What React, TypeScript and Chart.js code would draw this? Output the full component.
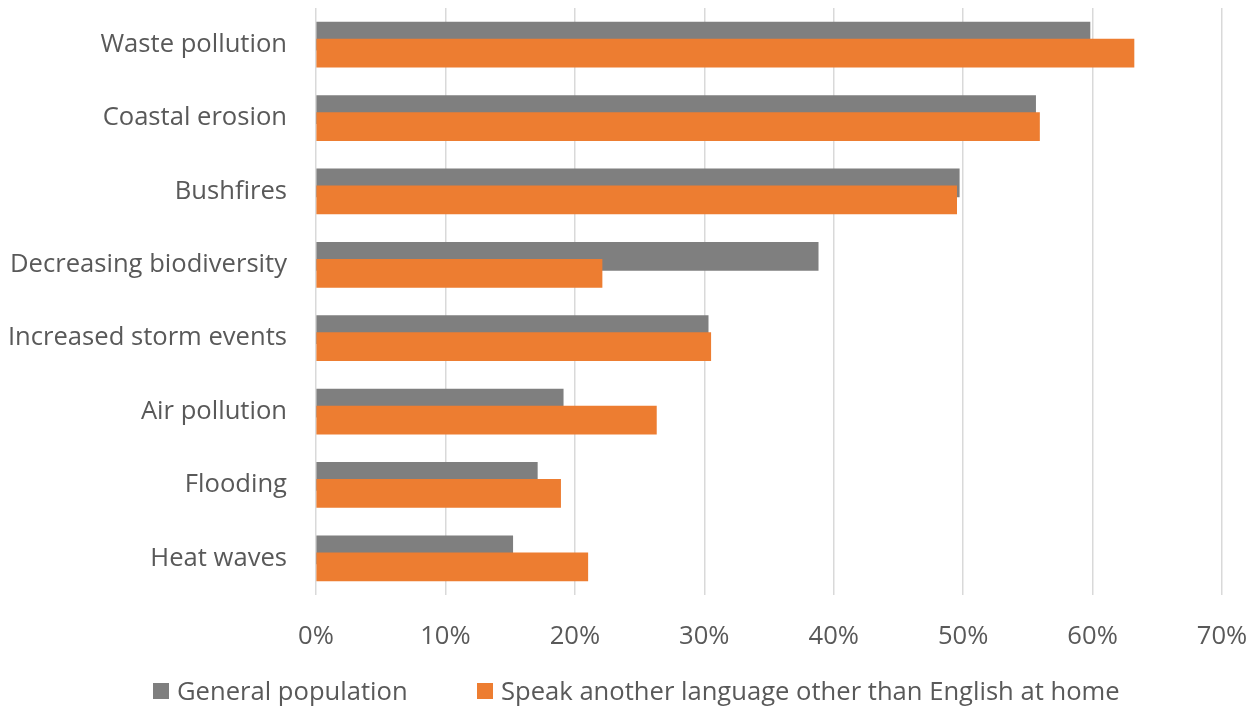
import React, { useEffect, useRef } from "react";
import { Chart, registerables } from "chart.js";

Chart.register(...registerables);

const categories = [
  "Waste pollution",
  "Coastal erosion",
  "Bushfires",
  "Decreasing biodiversity",
  "Increased storm events",
  "Air pollution",
  "Flooding",
  "Heat waves",
];
const generalPopulation = [59.8, 55.6, 49.7, 38.8, 30.3, 19.1, 17.1, 15.2];
const otherLanguage = [63.2, 55.9, 49.5, 22.1, 30.5, 26.3, 18.9, 21.0];
const seriesNames = [
  "General population",
  "Speak another language other than English at home",
];
const xTicks = [0, 10, 20, 30, 40, 50, 60, 70];

const GREY = "#7f7f7f";
const ORANGE = "#ed7d31";
const TEXT = "#595959";
const FONT = "'Open Sans', sans-serif";
const FS = 25.6;

export default function App() {
  const ref = useRef<HTMLCanvasElement | null>(null);

  useEffect(() => {
    if (!ref.current) return;
    const chart = new Chart(ref.current, {
      type: "bar",
      data: {
        datasets: [
          {
            label: seriesNames[0],
            data: generalPopulation.map((v, i) => ({ x: v, y: i - 0.116 })),
            backgroundColor: GREY,
            barThickness: 28,
            order: 1,
          },
          {
            label: seriesNames[1],
            data: otherLanguage.map((v, i) => ({ x: v, y: i + 0.116 })),
            backgroundColor: ORANGE,
            barThickness: 28,
            order: 0,
          },
        ],
      },
      options: {
        indexAxis: "y",
        responsive: false,
        animation: false,
        layout: { padding: { top: 8, right: 35, bottom: 0, left: 0 } },
        plugins: {
          legend: { display: false },
          tooltip: { enabled: false },
        },
        datasets: { bar: { grouped: false } },
        scales: {
          x: {
            type: "linear",
            min: 0,
            max: 70,
            afterBuildTicks: (s: any) => {
              s.ticks = xTicks.map((v) => ({ value: v }));
            },
            afterFit: (s: any) => {
              s.height = 113;
              s.paddingLeft = 0;
              s.paddingRight = 0;
            },
            border: { display: false },
            grid: { color: "#d9d9d9", lineWidth: 1.5, drawTicks: false },
            ticks: {
              padding: 26,
              color: TEXT,
              font: { family: FONT, size: FS },
              maxRotation: 0,
              callback: (v: any) => v + "%",
            },
          },
          y: {
            type: "linear",
            reverse: true,
            offset: false,
            min: -0.5,
            max: 7.5,
            afterBuildTicks: (s: any) => {
              s.ticks = categories.map((_, i) => ({ value: i }));
            },
            afterFit: (s: any) => {
              s.width = 316;
              s.paddingTop = 0;
              s.paddingBottom = 0;
            },
            border: { display: false },
            grid: { display: false, drawTicks: false },
            ticks: {
              padding: 29,
              color: TEXT,
              font: { family: FONT, size: FS },
              callback: (v: any) => categories[v] ?? "",
            },
          },
        },
      },
    } as any);
    return () => chart.destroy();
  }, []);

  const legendItem = (color: string, text: string, left: number) => (
    <div
      style={{
        position: "absolute",
        left,
        top: 676,
        display: "flex",
        alignItems: "center",
        whiteSpace: "nowrap",
      }}
    >
      <span
        style={{
          display: "inline-block",
          width: 16,
          height: 16,
          background: color,
          marginRight: 8,
        }}
      />
      <span style={{ fontFamily: FONT, fontSize: FS, color: TEXT, lineHeight: "30px" }}>
        {text}
      </span>
    </div>
  );

  return (
    <div
      style={{
        position: "fixed",
        left: 0,
        top: 0,
        width: 1257,
        height: 708,
        background: "#fff",
      }}
    >
      <canvas ref={ref} width={1257} height={708} style={{ position: "absolute", left: 0, top: 0 }} />
      {legendItem(GREY, seriesNames[0], 153)}
      {legendItem(ORANGE, seriesNames[1], 477)}
    </div>
  );
}
